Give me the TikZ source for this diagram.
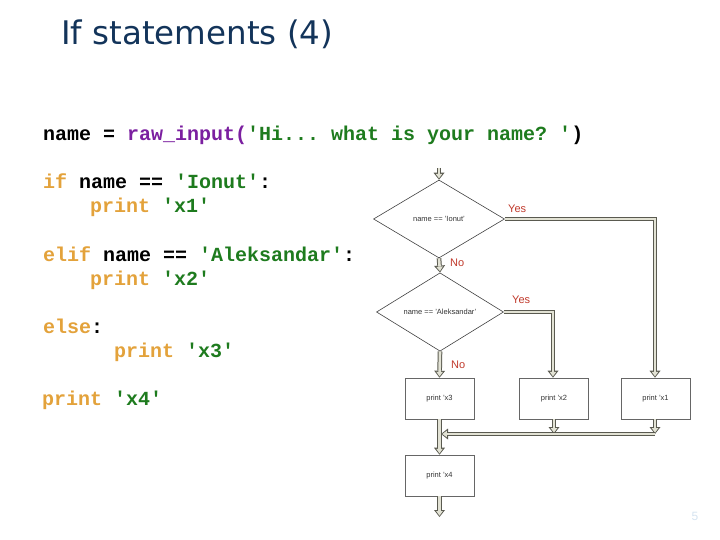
\documentclass[tikz,border=0pt]{standalone}
\usepackage{fontspec}
\setmainfont{Liberation Sans}
\setmonofont{Liberation Mono}
\newfontfamily\titlefont{DejaVu Sans}
\usetikzlibrary{shapes.geometric,arrows.meta}
\definecolor{titleblue}{HTML}{13345A}
\definecolor{kworange}{HTML}{E3A23B}
\definecolor{strgreen}{HTML}{1E7B1E}
\definecolor{fnpurple}{HTML}{7B1FA0}
\definecolor{yesred}{HTML}{C0392B}
\definecolor{arrowdark}{HTML}{5A5A50}
\definecolor{arrowlight}{HTML}{E2E2D4}
\definecolor{pagenum}{HTML}{D5E3F0}
\newcommand{\kw}[1]{\textcolor{kworange}{#1}}
\newcommand{\st}[1]{\textcolor{strgreen}{#1}}
\newcommand{\fn}[1]{\textcolor{fnpurple}{#1}}
\newcommand{\flowarrow}[1]{\draw[arrowouter] #1; \draw[arrowinner] #1;}
\tikzset{
  codeline/.style={anchor=base west, inner sep=0pt, font=\ttfamily\bfseries\fontsize{20}{23}\selectfont},
  decision/.style={diamond, draw=black!75, line width=0.6pt, inner sep=0pt, font=\fontsize{7.5}{9}\selectfont, text=black!80},
  stepbox/.style={rectangle, draw=black!60, line width=0.6pt, minimum width=69pt, minimum height=41pt, inner sep=0pt, font=\fontsize{7.5}{9}\selectfont, text=black!80},
  answer/.style={inner sep=0pt, text=yesred, font=\fontsize{11}{13}\selectfont},
  arrowouter/.style={draw=arrowdark, line width=4.6pt, line join=miter, -{Triangle[length=7pt,width=11pt,line width=0pt]}, arrowdark},
  arrowinner/.style={draw=arrowlight, line width=2.6pt, line join=miter, shorten >=1.3pt, -{Triangle[length=4.6pt,width=6.6pt,line width=0pt]}, arrowlight},
}
\begin{document}
\begin{tikzpicture}[x=1pt,y=-1pt]
\useasboundingbox (0,0) rectangle (720,540);
% title
\node[anchor=base west, inner sep=0pt, text=titleblue, font=\titlefont\fontsize{32.5}{38}\selectfont] (title) at (61,45) {If statements (4)};
% code
\node[codeline] (l1) at (43,141) {name = \fn{raw\_input(}\st{'Hi... what is your name? '})};
\node[codeline] (l2) at (43,189) {\kw{if} name == \st{'Ionut'}:};
\node[codeline] (l3) at (90,213) {\kw{print} \st{'x1'}};
\node[codeline] (l4) at (43,261) {\kw{elif} name == \st{'Aleksandar'}:};
\node[codeline] (l5) at (90,285) {\kw{print} \st{'x2'}};
\node[codeline] (l6) at (43,333) {\kw{else}:};
\node[codeline] (l7) at (114,357) {\kw{print} \st{'x3'}};
\node[codeline] (l8) at (42,405) {\kw{print} \st{'x4'}};
% flowchart
\coordinate (start) at (439,168);
\node[decision, minimum width=131pt, minimum height=78pt] (d1) at (439,219) {name == 'Ionut'};
\node[decision, minimum width=127pt, minimum height=78pt] (d2) at (440,312) {name == 'Aleksandar'};
\node[stepbox] (x3) at (439.5,398.5) {print 'x3};
\node[stepbox] (x2) at (554,398.5) {print 'x2};
\node[stepbox] (x1) at (655.5,398.5) {print 'x1};
\node[stepbox] (x4) at (439.5,475.5) {print 'x4};
\coordinate (c1) at (655,219);
\coordinate (c2) at (553,312);
\coordinate (m1) at (655,434);
\coordinate (m2) at (554,434);
\coordinate (mj) at (441,434);
\coordinate (stop) at (439.5,517);
\flowarrow{(x3.south) -- (x4.north)}
\flowarrow{(start) -- (d1.north)}
\flowarrow{(d1.south) -- (d2.north)}
\flowarrow{(d2.south) -- (x3.north)}
\flowarrow{(d1.east) -- (c1) -- (x1.north -| c1)}
\flowarrow{(d2.east) -- (c2) -- (x2.north -| c2)}
\flowarrow{(x1.south -| m1) -- (m1)}
\flowarrow{(x2.south) -- (m2)}
\flowarrow{(m1) -- (mj)}
\flowarrow{(x4.south) -- (stop)}
\node[answer, anchor=west] (yes1) at (508,209) {Yes};
\node[answer, anchor=west] (no1) at (450,263) {No};
\node[answer, anchor=west] (yes2) at (512,300) {Yes};
\node[answer, anchor=west] (no2) at (451,365) {No};
% page number
\node[inner sep=0pt, text=pagenum, font=\fontsize{12}{14}\selectfont] (page) at (695,516) {5};
\end{tikzpicture}
\end{document}
